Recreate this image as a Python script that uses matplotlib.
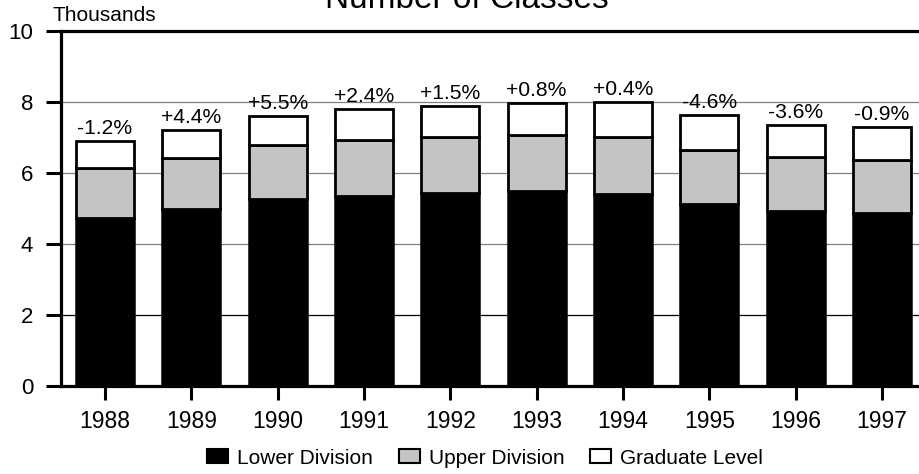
import matplotlib
matplotlib.use("Agg")
import matplotlib.pyplot as plt
from matplotlib.patches import Patch
import numpy as np

plt.rcParams['font.family'] = ['Liberation Sans', 'DejaVu Sans']

years = ['1988', '1989', '1990', '1991', '1992', '1993', '1994', '1995', '1996', '1997']
lower = [4.72, 4.98, 5.26, 5.35, 5.43, 5.49, 5.40, 5.13, 4.92, 4.87]
upper = [1.43, 1.45, 1.53, 1.57, 1.59, 1.59, 1.62, 1.52, 1.52, 1.50]
graduate = [0.75, 0.78, 0.82, 0.88, 0.88, 0.88, 0.97, 0.98, 0.90, 0.92]
changes = ['-1.2%', '+4.4%', '+5.5%', '+2.4%', '+1.5%', '+0.8%', '+0.4%', '-4.6%', '-3.6%', '-0.9%']
series_names = ['Lower Division', 'Upper Division', 'Graduate Level']
yticks = [0, 2, 4, 6, 8, 10]

W, H = 920, 474
fig = plt.figure(figsize=(W / 100, H / 100), dpi=100)
ax = fig.add_axes([61 / W, (H - 386) / H, 1 - 61 / W, (386 - 31) / H])

x = np.arange(len(years))
lower_a = np.array(lower)
upper_a = np.array(upper)
grad_a = np.array(graduate)

# gridlines
for yv in yticks[1:-1]:
    ax.axhline(yv, color='black' if yv == 2 else '#808080', lw=0.9, zorder=0)

bw = 0.67
ax.bar(x, lower_a, width=bw, color='black', edgecolor='black', lw=1.8, zorder=2)
ax.bar(x, upper_a, width=bw, bottom=lower_a, color='#c4c4c4', edgecolor='black', lw=2.0, zorder=2)
ax.bar(x, grad_a, width=bw, bottom=lower_a + upper_a, color='white', edgecolor='black', lw=2.0, zorder=2)

tops = lower_a + upper_a + grad_a
for xi, t, lab in zip(x, tops, changes):
    ax.annotate(lab, (xi, t), xytext=(0, 5), textcoords='offset points',
                ha='center', va='baseline', fontsize=15.2, zorder=3)

ax.set_xlim(-0.51, 9.44)
ax.set_ylim(0, 10)
ax.set_xticks(x)
ax.set_xticklabels(years)
ax.set_yticks(yticks)
ax.set_yticklabels([str(v) for v in yticks])

for s in ['left', 'top', 'bottom']:
    ax.spines[s].set_linewidth(2.3)
    ax.spines[s].set_color('black')
ax.spines['right'].set_visible(False)
ax.spines['top'].set_zorder(4)

ax.tick_params(axis='y', length=11, width=2.2, pad=9, labelsize=16, direction='out')
ax.tick_params(axis='x', length=10, width=2.2, pad=7, labelsize=16.5, direction='out')

fig.text(467 / W, 1 - 8 / H, 'Number of Classes', ha='center', va='baseline', fontsize=24)
fig.text(53 / W, 1 - 21 / H, 'Thousands', ha='left', va='baseline', fontsize=15)

handles = [Patch(facecolor='black', edgecolor='black', lw=1.5),
           Patch(facecolor='#c4c4c4', edgecolor='black', lw=1.5),
           Patch(facecolor='white', edgecolor='black', lw=1.5)]
fig.legend(handles, series_names, loc='center', bbox_to_anchor=(485 / W, (H - 458) / H),
           ncol=3, frameon=False, fontsize=15, handlelength=1.0, handleheight=0.67,
           handletextpad=0.43, columnspacing=1.25, borderpad=0, borderaxespad=0)

fig.savefig('out.png', dpi=100)
